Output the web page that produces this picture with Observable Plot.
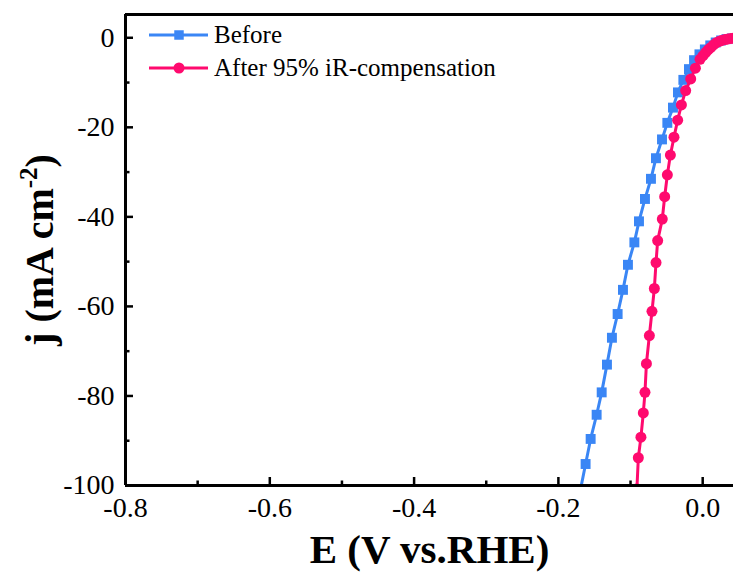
<!DOCTYPE html>
<html>
<head>
<meta charset="utf-8">
<script src="https://cdn.jsdelivr.net/npm/d3@7"></script>
<script src="https://cdn.jsdelivr.net/npm/@observablehq/plot@0.6"></script>
<style>
  html, body { margin: 0; padding: 0; background: #fff; }
  #chart { width: 733px; height: 572px; }
</style>
</head>
<body>
<div id="chart"></div>
<script>
// ---- Data ----
const seriesNames = ["Before", "After 95% iR-compensation"];
const seriesColors = ["#3A86F5", "#FF0A6E"];

const beforeE = [-0.1695, -0.1623, -0.1553, -0.1470, -0.1400, -0.1327, -0.1258, -0.1179, -0.1105, -0.1036,
                 -0.0947, -0.0883, -0.0800, -0.0717, -0.0648, -0.0564, -0.0490, -0.0412, -0.0343, -0.0268,
                 -0.0190, -0.0120, -0.0045, 0.0030, 0.0105, 0.0180, 0.0255, 0.0330, 0.0405, 0.0480];
const beforeJ = [-101.0, -95.2, -89.6, -84.2, -79.2, -73.0, -67.0, -61.7, -56.3, -50.7,
                 -45.7, -41.0, -36.0, -31.5, -26.9, -22.7, -19.0, -15.6, -12.2, -9.4,
                 -7.0, -5.0, -3.7, -2.6, -1.7, -1.05, -0.6, -0.3, -0.15, -0.05];

const afterE = [-0.0912, -0.0892, -0.0856, -0.0823, -0.0800, -0.0780, -0.0739, -0.0703, -0.0670, -0.0647,
                -0.0624, -0.0560, -0.0527, -0.0490, -0.0448, -0.0398, -0.0347, -0.0295, -0.0236, -0.0166,
                -0.0101, -0.0037, 0.0005, 0.0040, 0.0075, 0.0110, 0.0150, 0.0190, 0.0230, 0.0270,
                0.0310, 0.0350, 0.0390, 0.0430, 0.0470];
const afterJ = [-100.8, -93.8, -89.2, -83.8, -79.2, -72.8, -66.5, -61.1, -56.0, -50.2,
                -45.3, -40.5, -35.5, -30.6, -26.2, -22.2, -18.4, -15.0, -11.8, -9.2,
                -6.8, -4.8, -4.0, -3.3, -2.7, -2.2, -1.6, -1.1, -0.8, -0.55,
                -0.4, -0.25, -0.15, -0.1, -0.05];

const xMajorTicks = [-0.8, -0.6, -0.4, -0.2, 0.0];
const xMinorTicks = [-0.7, -0.5, -0.3, -0.1];
const yMajorTicks = [0, -20, -40, -60, -80, -100];
const yMinorTicks = [-10, -30, -50, -70, -90];
const xDomain = [-0.8, 0.0427];
const yDomain = [-100, 5.2];
const xTitle = "E (V vs.RHE)";
const yTitle = "j (mA cm-2)";

// ---- Build table ----
const before = beforeE.map((e, i) => ({E: e, j: beforeJ[i], s: seriesNames[0]}));
const after = afterE.map((e, i) => ({E: e, j: afterJ[i], s: seriesNames[1]}));

const font = "Liberation Serif";

function legendMark(index, scales, values, dimensions) {
  const g = d3.create("svg:g").attr("class", "legend");
  const symbols = [d3.symbolSquare, d3.symbolCircle];
  const sizes = [90, 95];
  const x0 = dimensions.marginLeft + 24;
  seriesNames.forEach((name, i) => {
    const cy = dimensions.marginTop + 21 + i * 33;
    g.append("line").attr("x1", x0).attr("x2", x0 + 59).attr("y1", cy).attr("y2", cy)
      .attr("stroke", seriesColors[i]).attr("stroke-width", 3);
    g.append("path").attr("d", d3.symbol(symbols[i], sizes[i])())
      .attr("transform", `translate(${x0 + 30},${cy})`).attr("fill", seriesColors[i]);
    g.append("text").attr("x", x0 + 65).attr("y", cy).attr("dy", "0.33em")
      .attr("text-anchor", "start")
      .attr("font-size", 25).attr("font-family", font).attr("fill", "#000").text(name);
  });
  return g.node();
}

const chart = Plot.plot({
  width: 733,
  height: 572,
  marginLeft: 125,
  marginRight: 0,
  marginTop: 14,
  marginBottom: 87,
  style: {fontFamily: font, background: "#fff", color: "#000"},
  x: {domain: xDomain},
  y: {domain: yDomain},
  marks: [
    // data lines + markers
    Plot.line(before, {x: "E", y: "j", stroke: seriesColors[0], strokeWidth: 3, clip: true}),
    Plot.dot(before, {x: "E", y: "j", symbol: "square", r: 5.6, fill: seriesColors[0], clip: true}),
    Plot.line(after, {x: "E", y: "j", stroke: seriesColors[1], strokeWidth: 3, clip: true}),
    Plot.dot(after, {x: "E", y: "j", symbol: "circle", r: 5.5, fill: seriesColors[1], clip: true}),
    // inward ticks
    Plot.axisX({ticks: xMajorTicks, tickSize: -8, tickFormat: () => "", label: null, strokeWidth: 2.5}),
    Plot.axisX({ticks: xMinorTicks, tickSize: -4.5, tickFormat: () => "", label: null, strokeWidth: 2.5}),
    Plot.axisY({ticks: yMajorTicks, tickSize: -8, tickFormat: () => "", label: null, strokeWidth: 2.5}),
    Plot.axisY({ticks: yMinorTicks, tickSize: -4.5, tickFormat: () => "", label: null, strokeWidth: 2.5}),
    // tick labels
    Plot.axisX({ticks: xMajorTicks, tickSize: 0, tickPadding: 12, fontSize: 28, fontFamily: font,
                label: null, fill: "#000", tickFormat: d => d.toFixed(1)}),
    Plot.axisY({ticks: yMajorTicks, tickSize: 0, tickPadding: 11, fontSize: 28, fontFamily: font,
                label: null, fill: "#000", tickFormat: d => String(d)}),
    // frame lines
    Plot.ruleX([xDomain[0]], {stroke: "#000", strokeWidth: 3}),
    Plot.ruleY([yDomain[0]], {stroke: "#000", strokeWidth: 3}),
    Plot.ruleY([yDomain[1]], {stroke: "#000", strokeWidth: 3}),
    // axis titles
    Plot.text([xTitle], {text: d => d, frameAnchor: "bottom", dy: 64, fontSize: 41, fontWeight: "bold",
                         fontFamily: font, textAnchor: "middle", lineAnchor: "middle", fill: "#000"}),
    Plot.text([yTitle], {text: d => d, frameAnchor: "left", rotate: -90, dx: -85, fontSize: 40,
                         fontFamily: font, fontWeight: "bold", textAnchor: "middle",
                         lineAnchor: "middle", fill: "#000"}),
    legendMark
  ]
});

// serif for every text, superscript for the y title
d3.select(chart).selectAll("text").style("font-family", font);
d3.select(chart).selectAll("text").filter(function() { return this.textContent === yTitle; })
  .each(function() {
    const t = d3.select(this);
    t.text("");
    t.append("tspan").text("j (mA cm");
    t.append("tspan").attr("dy", -16).attr("font-size", 25).text("-2");
    t.append("tspan").attr("dy", 16).text(")");
  });

document.getElementById("chart").appendChild(chart);
</script>
</body>
</html>
